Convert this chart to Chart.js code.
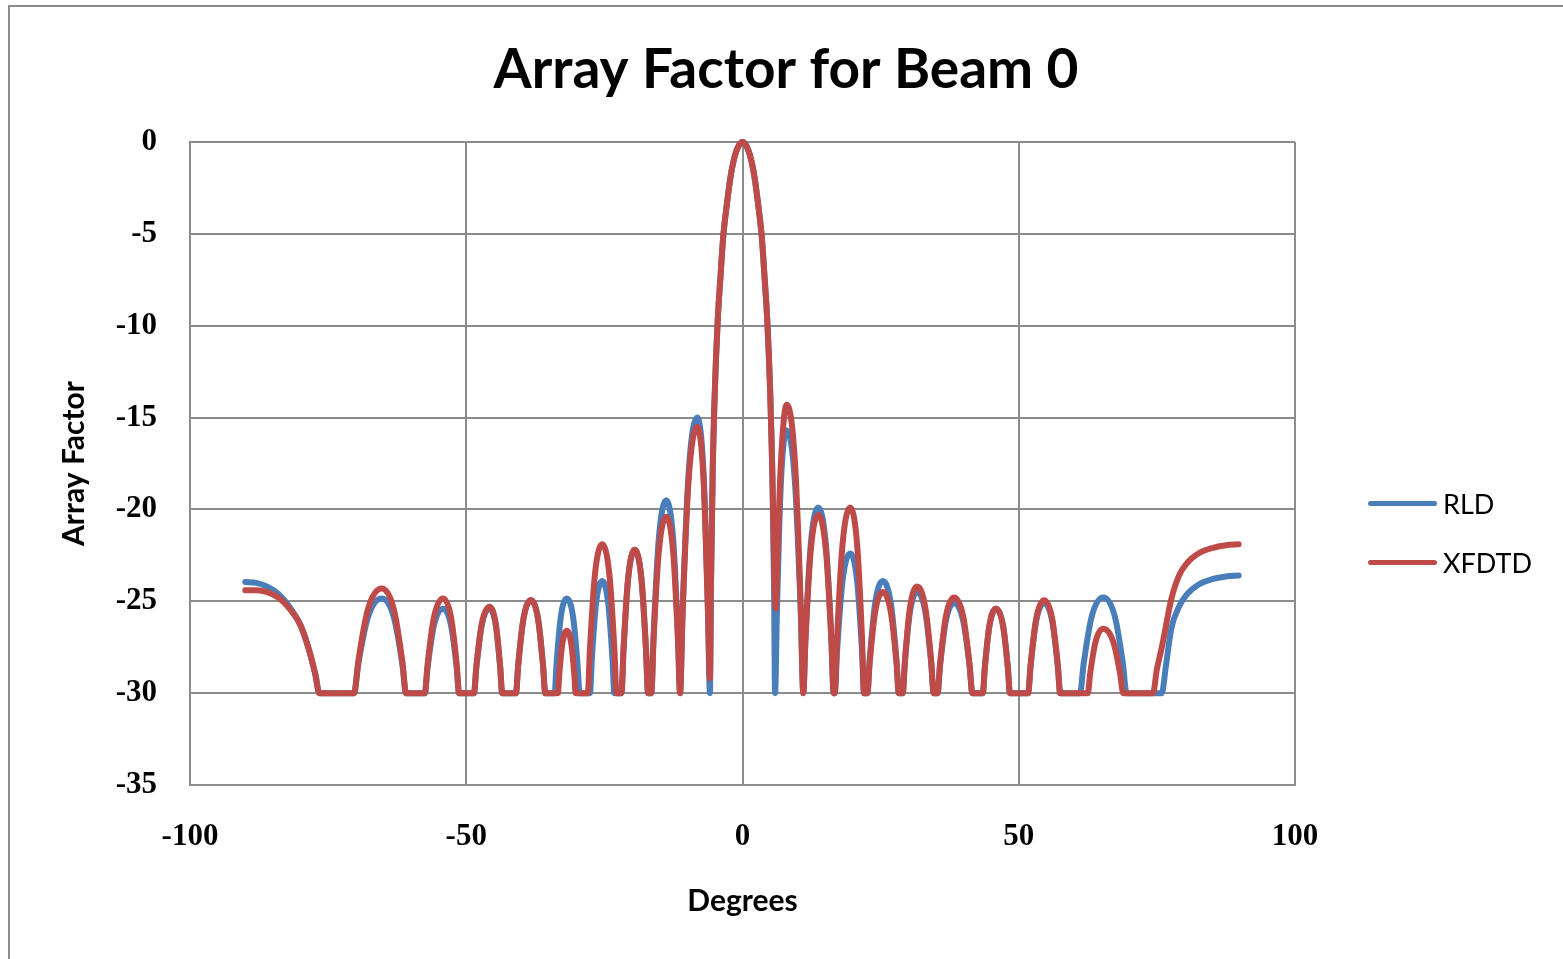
<!DOCTYPE html>
<html lang="en">
<head>
  <meta charset="UTF-8" />
  <title>Array Factor for Beam 0</title>
  <script src="https://cdn.jsdelivr.net/npm/chart.js"></script>
  <style>
    html, body { margin: 0; padding: 0; background: #fff; }
    .wrap { position: relative; width: 1563px; height: 959px; overflow: hidden; }
    .frame {
      position: absolute; left: 8px; top: 5px; width: 1700px; height: 1100px;
      border-left: 2px solid #8c8c8c; border-top: 2px solid #8c8c8c;
    }
    .chart-box { position: absolute; left: 0; top: 0; width: 1563px; height: 959px; }
    .legend-row { position: absolute; left: 1368px; height: 30px; display: flex; align-items: center; }
    .legend-line { width: 69px; height: 5px; border-radius: 3px; margin-right: 6px; }
    .legend-text { font-family: Lato, sans-serif; font-size: 27px; color: #000; }
  </style>
</head>
<body>
<div class="wrap">
  <div class="frame"></div>
  <div class="chart-box"><canvas id="afChart"></canvas></div>
  <div id="legend"></div>
</div>

<script>
  // angle (deg) / array factor (dB), clipped at -30
  const rldDeg = [
    -90, -88, -86, -84, -82, -80, -78.5, -77.3, -76.6,
    -70.3, -69.55, -67.8, -65.3, -63.1, -61.56, -60.9,
    -57.5, -57.0, -55.85, -54.2, -52.75, -51.73, -51.3,
    -48.6, -48.18, -47.2, -45.8, -44.65, -43.85, -43.5,
    -41.0, -40.6, -39.65, -38.3, -37.0, -36.1, -35.7,
    -34.0, -33.67, -32.9, -31.8, -30.65, -29.85, -29.5,
    -27.6, -27.27, -26.5, -25.4, -24.3, -23.53, -23.2,
    -21.9, -21.54, -20.7, -19.5, -18.3, -17.46, -17.1,
    -16.5, -16.1, -15.15, -13.8, -12.55, -11.68, -11.3,
    -10.84, -9.75, -8.2, -7.05, -6.25,
    -5.9, -5.7, -5.4, -5.0, -4.5, -4.0, -3.5, -3.0, -2.0, -1.0, 0, 1.0, 2.0, 3.0, 3.5, 4.0, 4.5, 5.0, 5.4, 5.7, 5.9,
    6.22, 6.95, 8.0, 9.5, 10.55, 11.0,
    11.4, 12.35, 13.7, 15.1, 16.08, 16.5,
    16.7, 17.12, 18.1, 19.5, 20.75, 21.63, 22.0,
    22.6, 23.02, 24.0, 25.4, 26.85, 27.87, 28.3,
    29.0, 29.39, 30.3, 31.6, 33.1, 34.15, 34.6,
    35.3, 35.75, 36.8, 38.3, 39.95, 41.1, 41.6,
    43.5, 43.86, 44.7, 45.9, 47.15, 48.03, 48.4,
    51.7, 52.14, 53.15, 54.6, 56.05, 57.07, 57.5,
    61.1, 61.73, 63.2, 65.3, 67.4, 68.87, 69.5,
    75.9, 76.6, 77.6, 79, 80.5, 82.5, 85, 87.5, 89.8
  ];
  const rldVal = [
    -23.95, -24.0, -24.2, -24.6, -25.3, -26.3, -27.6, -29.0, -30,
    -30, -28.45, -25.88, -24.85, -25.88, -28.45, -30,
    -30, -28.62, -26.32, -25.4, -26.32, -28.62, -30,
    -30, -28.62, -26.32, -25.4, -26.32, -28.62, -30,
    -30, -28.49, -25.96, -24.95, -25.96, -28.49, -30,
    -30, -28.45, -25.88, -24.85, -25.88, -28.45, -30,
    -30, -28.17, -25.12, -23.9, -25.12, -28.17, -30,
    -30, -27.66, -23.76, -22.2, -23.76, -27.66, -30,
    -30, -26.85, -21.6, -19.5, -21.6, -26.85, -30,
    -25.5, -18.0, -15.0, -18.0, -25.5,
    -30, -24, -18, -13.5, -9.8, -7.4, -5.2, -3.8, -1.6, -0.4, 0, -0.4, -1.6, -3.8, -5.2, -7.4, -9.8, -13.5, -18, -24, -30,
    -25.71, -18.56, -15.7, -18.56, -25.71, -30,
    -26.97, -21.92, -19.9, -21.92, -26.97, -30,
    -30, -27.72, -23.92, -22.4, -23.92, -27.72, -30,
    -30, -28.17, -25.12, -23.9, -25.12, -28.17, -30,
    -30, -28.35, -25.6, -24.5, -25.6, -28.35, -30,
    -30, -28.53, -26.08, -25.1, -26.08, -28.53, -30,
    -30, -28.62, -26.32, -25.4, -26.32, -28.62, -30,
    -30, -28.53, -26.08, -25.1, -26.08, -28.53, -30,
    -30, -28.44, -25.84, -24.8, -25.84, -28.44, -30,
    -30, -28.6, -26.5, -25.3, -24.6, -24.1, -23.8, -23.65, -23.6
  ];

  const xfdDeg = [
    -90, -88, -86, -84, -82, -80, -78.5, -77.3, -76.6,
    -70.3, -69.55, -67.8, -65.3, -63.1, -61.56, -60.9,
    -57.5, -57.0, -55.85, -54.2, -52.75, -51.73, -51.3,
    -48.6, -48.18, -47.2, -45.8, -44.65, -43.85, -43.5,
    -41.0, -40.6, -39.65, -38.3, -37.0, -36.1, -35.7,
    -33.4, -33.16, -32.6, -31.8, -31.0, -30.44, -30.2,
    -28.0, -27.61, -26.7, -25.4, -24.1, -23.19, -22.8,
    -21.9, -21.54, -20.7, -19.5, -18.3, -17.46, -17.1,
    -16.5, -16.1, -15.15, -13.8, -12.55, -11.68, -11.3,
    -10.84, -9.75, -8.2, -7.05, -6.25,
    -5.9, -5.7, -5.4, -5.0, -4.5, -4.0, -3.5, -3.0, -2.0, -1.0, 0, 1.0, 2.0, 3.0, 3.5, 4.0, 4.5, 5.0, 5.4, 5.75, 6.0,
    6.3, 6.95, 8.0, 9.5, 10.55, 11.0,
    11.4, 12.35, 13.7, 15.1, 16.08, 16.5,
    16.7, 17.12, 18.1, 19.5, 20.75, 21.63, 22.0,
    22.6, 23.02, 24.0, 25.4, 26.85, 27.87, 28.3,
    29.0, 29.39, 30.3, 31.6, 33.1, 34.15, 34.6,
    35.3, 35.75, 36.8, 38.3, 39.95, 41.1, 41.6,
    43.5, 43.86, 44.7, 45.9, 47.15, 48.03, 48.4,
    51.7, 52.14, 53.15, 54.6, 56.05, 57.07, 57.5,
    62.5, 62.92, 63.9, 65.3, 67.1, 68.36, 68.9,
    74.3, 75.0, 75.9, 77.6, 79, 80.5, 82.5, 85, 87.5, 89.8
  ];
  const xfdVal = [
    -24.4, -24.4, -24.5, -24.8, -25.4, -26.3, -27.6, -29.0, -30,
    -30, -28.29, -25.44, -24.3, -25.44, -28.29, -30,
    -30, -28.45, -25.88, -24.85, -25.88, -28.45, -30,
    -30, -28.59, -26.24, -25.3, -26.24, -28.59, -30,
    -30, -28.49, -25.96, -24.95, -25.96, -28.49, -30,
    -30, -28.98, -27.28, -26.6, -27.28, -28.98, -30,
    -30, -27.57, -23.52, -21.9, -23.52, -27.57, -30,
    -30, -27.66, -23.76, -22.2, -23.76, -27.66, -30,
    -30, -27.12, -22.32, -20.4, -22.32, -27.12, -30,
    -25.65, -18.4, -15.5, -18.4, -25.65,
    -29.2, -24, -18, -13.5, -9.8, -7.4, -5.2, -3.8, -1.6, -0.4, 0, -0.4, -1.6, -3.8, -5.2, -7.4, -9.8, -13.5, -18, -23.5, -25.4,
    -22.8, -17.44, -14.3, -17.44, -25.29, -30,
    -27.09, -22.24, -20.3, -22.24, -27.09, -30,
    -30, -26.97, -21.92, -19.9, -21.92, -26.97, -30,
    -30, -28.35, -25.6, -24.5, -25.6, -28.35, -30,
    -30, -28.26, -25.36, -24.2, -25.36, -28.26, -30,
    -30, -28.44, -25.84, -24.8, -25.84, -28.44, -30,
    -30, -28.62, -26.32, -25.4, -26.32, -28.62, -30,
    -30, -28.49, -25.96, -24.95, -25.96, -28.49, -30,
    -30, -28.95, -27.2, -26.5, -27.2, -28.95, -30,
    -30, -28.7, -27.5, -24.9, -23.6, -22.9, -22.4, -22.1, -21.95, -21.9
  ];

  const xTicks = [-100, -50, 0, 50, 100];
  const yTicks = [-35, -30, -25, -20, -15, -10, -5, 0];

  const toPoints = (xs, ys) => xs.map((x, i) => ({ x: x, y: ys[i] }));

  const tickFont = { family: 'Liberation Serif', size: 31, weight: 'bold' };
  const gridColor = '#8c8c8c';

  const chart = new Chart(document.getElementById('afChart'), {
    type: 'line',
    data: {
      datasets: [
        {
          label: 'RLD',
          data: toPoints(rldDeg, rldVal),
          borderColor: '#4a7ebb',
          backgroundColor: '#4a7ebb',
          order: 1
        },
        {
          label: 'XFDTD',
          data: toPoints(xfdDeg, xfdVal),
          borderColor: '#be4b48',
          backgroundColor: '#be4b48',
          order: 0
        }
      ]
    },
    options: {
      responsive: true,
      maintainAspectRatio: false,
      animation: false,
      layout: { padding: { left: 9, right: 0, top: 0, bottom: 0 } },
      datasets: {
        line: {
          borderWidth: 6,
          pointRadius: 0,
          cubicInterpolationMode: 'monotone',
          borderJoinStyle: 'round',
          borderCapStyle: 'round',
          clip: 8
        }
      },
      plugins: {
        legend: { display: false },
        tooltip: { enabled: false },
        title: {
          display: true,
          text: 'Array Factor for Beam 0',
          color: '#000',
          font: { family: 'Lato', size: 55, weight: 'bold' },
          padding: { top: 37, bottom: 39 }
        }
      },
      scales: {
        x: {
          type: 'linear',
          min: xTicks[0],
          max: xTicks[xTicks.length - 1],
          afterBuildTicks: s => { s.ticks = xTicks.map(v => ({ value: v })); },
          afterFit: s => { s.height = 174; },
          grid: { color: gridColor, lineWidth: 2, drawTicks: false },
          border: { color: gridColor, width: 2 },
          ticks: { font: tickFont, color: '#000', padding: 33, maxRotation: 0 },
          title: {
            display: true,
            text: 'Degrees',
            color: '#000',
            font: { family: 'Lato', size: 30, weight: 'bold' },
            padding: { top: 0, bottom: 40 }
          }
        },
        y: {
          min: yTicks[0],
          max: yTicks[yTicks.length - 1],
          afterBuildTicks: s => { s.ticks = yTicks.map(v => ({ value: v })); },
          afterFit: s => { s.width = 181; },
          grid: { color: gridColor, lineWidth: 2, drawTicks: false },
          border: { color: gridColor, width: 2 },
          ticks: { font: tickFont, color: '#000', padding: 33 },
          title: {
            display: true,
            text: 'Array Factor',
            color: '#000',
            font: { family: 'Lato', size: 30, weight: 'bold' },
            padding: { top: 47, bottom: 0 }
          }
        },
        // empty right-hand band that holds the legend column
        side: {
          type: 'linear',
          position: 'right',
          display: true,
          afterFit: s => { s.width = 268; },
          grid: { display: false, drawTicks: false },
          border: { display: false },
          ticks: { display: false }
        }
      }
    }
  });

  // legend drawn beside the plot, in dataset order
  const legendTops = [488, 547];
  const legendEl = document.getElementById('legend');
  chart.data.datasets.forEach((ds, i) => {
    const row = document.createElement('div');
    row.className = 'legend-row';
    row.style.top = legendTops[i] + 'px';
    row.innerHTML = '<div class="legend-line" style="background:' + ds.borderColor + '"></div>' +
      '<span class="legend-text">' + ds.label + '</span>';
    legendEl.appendChild(row);
  });
</script>
</body>
</html>
